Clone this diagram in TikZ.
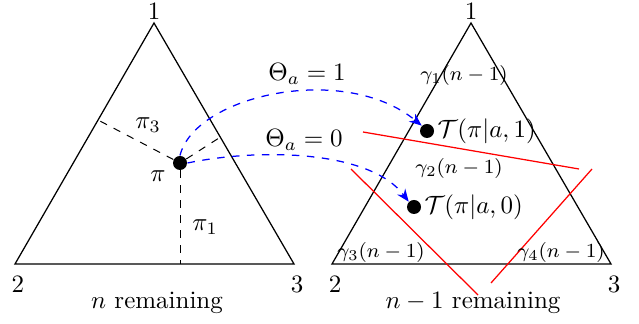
\documentclass[tikz,border=0pt]{standalone}
\usetikzlibrary{arrows.meta}
\begin{document}
\begin{tikzpicture}[x=0.4pt,y=-0.4pt,
  tri/.style={draw=black,line width=0.5pt},
  dpt/.style={circle,fill=black,inner sep=0pt,minimum size=5.6pt},
  guide/.style={dashed,line width=0.4pt},
  flow/.style={blue,dashed,line width=0.5pt,-{Stealth[length=5pt,width=4pt]}},
  cut/.style={red,line width=0.5pt},
  glab/.style={font=\footnotesize,inner sep=0pt}]
\useasboundingbox (0,0) rectangle (639,324);
% left simplex
\coordinate (L1) at (154,23);
\coordinate (L2) at (15,264);
\coordinate (L3) at (294,264);
\draw[tri] (L1) -- (L2) -- (L3) -- cycle;
\node (l1) at (154,11) {1};
\node (l2) at (18,284) {2};
\node (l3) at (297,284) {3};
\node (lrem) at (157,303) {$n$ remaining};
\node[dpt] (pi) at (180,163) {};
\coordinate (fb) at (180,264);
\coordinate (fl) at (98,120);
\coordinate (fr) at (219,138);
\draw[guide] (pi) -- (fb);
\draw[guide] (pi) -- (fl);
\draw[guide] (pi) -- (fr);
\node (pil) at (158,176) {$\pi$};
\node (pi3) at (148,125) {$\pi_3$};
\node (pi1) at (205,227) {$\pi_1$};
% right simplex
\coordinate (R1) at (471,23);
\coordinate (R2) at (332,264);
\coordinate (R3) at (611,264);
\draw[tri] (R1) -- (R2) -- (R3) -- cycle;
\node (r1) at (471,11) {1};
\node (r2) at (335,284) {2};
\node (r3) at (614,284) {3};
\node (rrem) at (473,303) {$n-1$ remaining};
% cuts
\coordinate (c1a) at (363,132); \coordinate (c1b) at (579,169);
\coordinate (c2a) at (351,169); \coordinate (c2b) at (478,295);
\coordinate (c3a) at (592,169); \coordinate (c3b) at (491,283);
\draw[cut] (c1a) -- (c1b);
\draw[cut] (c2a) -- (c2b);
\draw[cut] (c3a) -- (c3b);
\node[glab] (g1) at (464,76) {$\gamma_1(n-1)$};
\node[glab] (g2) at (459,169) {$\gamma_2(n-1)$};
\node[glab] (g3) at (381,253) {$\gamma_3(n-1)$};
\node[glab] (g4) at (561,253) {$\gamma_4(n-1)$};
% transitions
\node[dpt] (t1) at (427,131) {};
\node[dpt] (t0) at (414,207) {};
\node[anchor=west,inner sep=1pt] (t1l) at (t1.east) {$\mathcal{T}(\pi|a,1)$};
\node[anchor=west,inner sep=1pt] (t0l) at (t0.east) {$\mathcal{T}(\pi|a,0)$};
\draw[flow] (pi.north) .. controls (195,95) and (345,62) .. (t1.north west);
\draw[flow] (pi.east) .. controls (260,148) and (370,150) .. (t0.north west);
\node (th1) at (307,74) {$\Theta_a=1$};
\node (th0) at (304,140) {$\Theta_a=0$};
\end{tikzpicture}
\end{document}
